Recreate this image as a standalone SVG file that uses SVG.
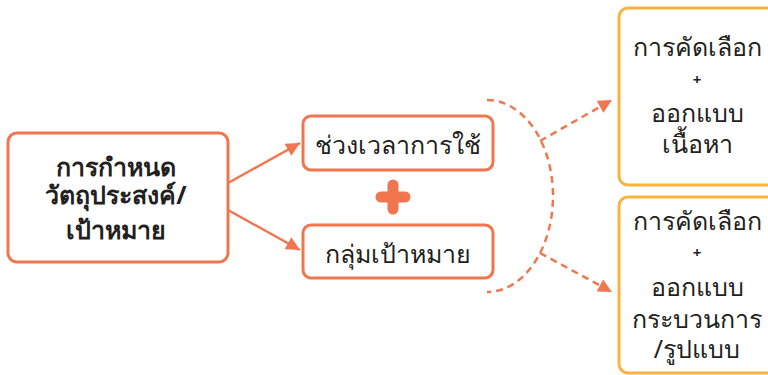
<svg xmlns="http://www.w3.org/2000/svg" width="768" height="375" viewBox="0 0 768 375">
<style>
.box{fill:#fff;stroke:#F07650;stroke-width:3}
.ybox{fill:#fff;stroke:#F9B340;stroke-width:3}
.t{font-family:"Noto Sans","Liberation Sans",sans-serif;fill:#231f20;text-anchor:middle}
.b{font-weight:bold}
.con{fill:none;stroke:#F07650;stroke-width:2.5}
.dash{stroke-dasharray:7 5}
</style>
<defs>
<marker id="ah" viewBox="0 0 10 10" refX="10" refY="5" markerWidth="6" markerHeight="5.5" markerUnits="strokeWidth" orient="auto">
<path d="M0,0 L10,5 L0,10 z" fill="#F07650"/>
</marker>
</defs>
<g id="connectors">
<line class="con" x1="228" y1="183" x2="300" y2="143" marker-end="url(#ah)"/>
<line class="con" x1="228" y1="210" x2="300" y2="250" marker-end="url(#ah)"/>
<path class="con dash" d="M487,100 A66,96 0 0 1 487,292"/>
<line class="con dash" x1="540" y1="141" x2="612" y2="100" marker-end="url(#ah)"/>
<line class="con dash" x1="540" y1="253" x2="612" y2="292" marker-end="url(#ah)"/>
</g>
<g id="n1">
<rect class="box" x="8" y="133" width="220" height="129" rx="9"/>
<text class="t b" font-size="25" x="116" y="176">การกำหนด</text>
<text class="t b" font-size="25" x="116" y="204">วัตถุประสงค์/</text>
<text class="t b" font-size="25" x="116" y="239">เป้าหมาย</text>
</g>
<g id="n2">
<rect class="box" x="303" y="116" width="190" height="54" rx="8"/>
<text class="t" font-size="25" x="398" y="154">ช่วงเวลาการใช้</text>
</g>
<g id="plus">
<path d="M381,197 H405 M393,185 V209" stroke="#F07650" stroke-width="11" stroke-linecap="round" fill="none"/>
</g>
<g id="n3">
<rect class="box" x="303" y="225" width="190" height="53" rx="8"/>
<text class="t" font-size="25" x="398" y="263">กลุ่มเป้าหมาย</text>
</g>
<g id="n4">
<rect class="ybox" x="619" y="8" width="170" height="177" rx="9"/>
<text class="t" font-size="25" x="697" y="56">การคัดเลือก</text>
<text class="t b" font-size="15" x="697" y="85">+</text>
<text class="t" font-size="25" x="697" y="122">ออกแบบ</text>
<text class="t" font-size="25" x="697" y="153">เนื้อหา</text>
</g>
<g id="n5">
<rect class="ybox" x="619" y="197" width="170" height="176" rx="9"/>
<text class="t" font-size="25" x="697" y="230">การคัดเลือก</text>
<text class="t b" font-size="15" x="697" y="258">+</text>
<text class="t" font-size="25" x="697" y="296">ออกแบบ</text>
<text class="t" font-size="25" x="697" y="328">กระบวนการ</text>
<text class="t" font-size="25" x="697" y="358">/รูปแบบ</text>
</g>
</svg>
